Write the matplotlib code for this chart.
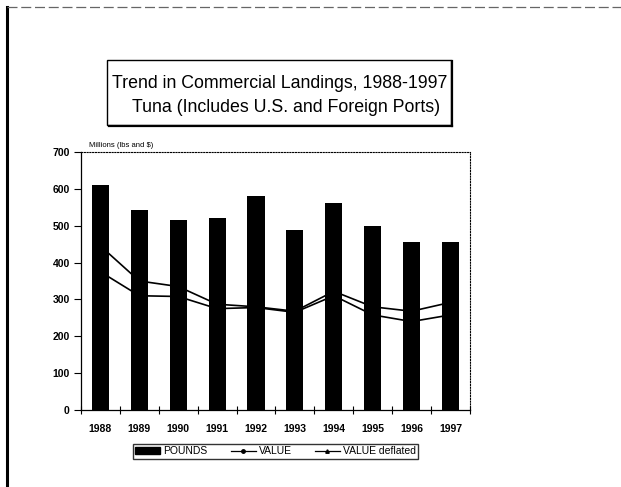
import matplotlib as mpl
mpl.use('Agg')
import matplotlib.pyplot as plt
from matplotlib.patches import Rectangle
from matplotlib.lines import Line2D

# Data
years = ['1988', '1989', '1990', '1991', '1992', '1993', '1994', '1995', '1996', '1997']
pounds = [610, 542, 515, 522, 580, 488, 562, 498, 456, 456]
value = [445, 350, 335, 287, 280, 268, 322, 280, 268, 292]
value_defl = [375, 310, 308, 275, 278, 265, 310, 258, 240, 258]

plt.rcParams['font.family'] = ['Liberation Sans', 'DejaVu Sans']

fg = plt.figure(figsize=(6.21, 4.87), dpi=100)

# Outer page frame (left and top)
fg.add_artist(Line2D([0.011, 0.011], [0.0, 0.985], transform=fg.transFigure, color='black', lw=2.2))
fg.add_artist(Line2D([0.011, 1.0], [0.985, 0.985], transform=fg.transFigure, color='#666666', lw=0.9, ls=(0, (8, 3))))

# Title box
fg.add_artist(Rectangle((0.173, 0.744), 0.553, 0.132, transform=fg.transFigure,
                        facecolor='white', edgecolor='black', lw=1.0))
fg.add_artist(Line2D([0.728, 0.728], [0.742, 0.874], transform=fg.transFigure, color='black', lw=1.6))
fg.add_artist(Line2D([0.175, 0.728], [0.742, 0.742], transform=fg.transFigure, color='black', lw=1.6))
fg.text(0.451, 0.829, 'Trend in Commercial Landings, 1988-1997', ha='center', va='center', fontsize=12.8)
fg.text(0.461, 0.780, 'Tuna (Includes U.S. and Foreign Ports)', ha='center', va='center', fontsize=12.8)

ax = fg.add_axes([0.1304, 0.1581, 0.6264, 0.5298])
x = list(range(len(years)))

ax.plot(x, value, color='black', lw=1.2, marker='o', ms=2.5, zorder=2)
ax.plot(x, value_defl, color='black', lw=1.2, marker='^', ms=2.5, zorder=2)
ax.bar(x, pounds, width=0.44, color='black', zorder=3)

ax.set_xlim(-0.5, 9.5)
ax.set_ylim(0, 700)
ax.set_yticks(range(0, 701, 100))
ax.set_xticks(x)
ax.set_xticklabels(years, fontsize=7.5, fontweight='bold')
ax.set_xticks([i + 0.5 for i in range(-1, 10)], minor=True)
ax.tick_params(axis='x', which='major', length=0, pad=10)
ax.tick_params(axis='x', which='minor', length=6, direction='inout', width=0.8)
ax.tick_params(axis='y', length=5, direction='out', width=0.8, labelsize=7.5, pad=3)
for lab in ax.get_yticklabels():
    lab.set_fontweight('bold')

for s in ['top', 'right']:
    ax.spines[s].set_linestyle((0, (1, 1.5)))
    ax.spines[s].set_linewidth(0.8)
for s in ['left', 'bottom']:
    ax.spines[s].set_linewidth(0.9)

ax.text(0.02, 1.01, 'Millions (lbs and $)', transform=ax.transAxes, fontsize=5.5, va='bottom', ha='left')

# Legend
h_bar = Rectangle((0, 0), 1, 1, color='black')
h_val = Line2D([], [], color='black', lw=0.9, marker='o', ms=2.5)
h_def = Line2D([], [], color='black', lw=0.9, marker='^', ms=2.5)
leg = fg.legend([h_bar, h_val, h_def], ['POUNDS', 'VALUE', 'VALUE deflated'],
                loc='center', bbox_to_anchor=(0.444, 0.073), ncol=3, fontsize=7.5,
                frameon=True, fancybox=False, edgecolor='black', handlelength=2.4,
                handletextpad=0.3, columnspacing=2.2, borderpad=0.2, borderaxespad=0)
leg.get_frame().set_linewidth(1.0)

fg.savefig('out.png', dpi=100)
